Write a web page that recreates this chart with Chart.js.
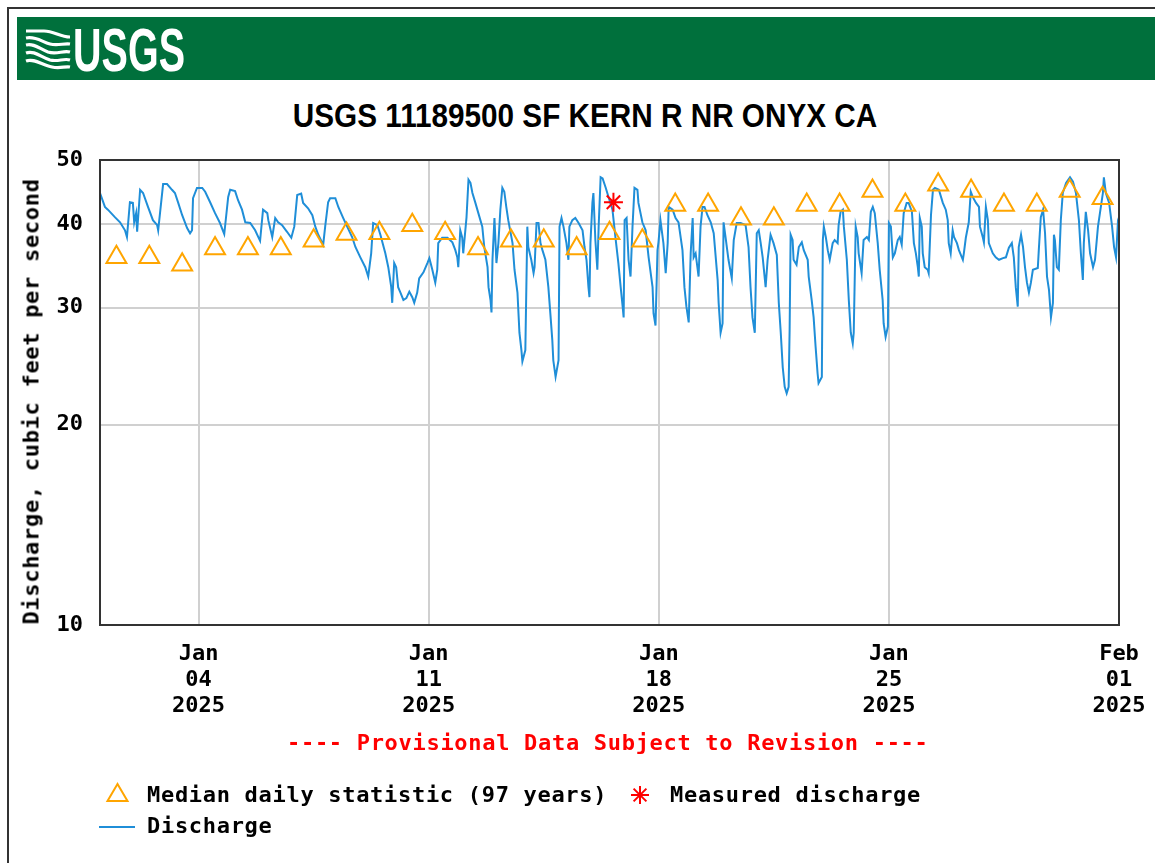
<!DOCTYPE html>
<html>
<head>
<meta charset="utf-8">
<script src="https://cdn.jsdelivr.net/npm/chart.js@4.4.1/dist/chart.umd.min.js"></script>
<style>
  html, body { margin: 0; padding: 0; background: #fff; }
  body { width: 1155px; height: 863px; position: relative; overflow: hidden; }
  #frame { position: absolute; left: 7px; top: 7px; width: 1200px; height: 900px; border-left: 2px solid #333; border-top: 2px solid #333; }
  #band { position: absolute; left: 17px; top: 17px; width: 1138px; height: 63px; background: #00703C; }
  #logo { position: absolute; left: 0; top: 0; }
  #title { position: absolute; left: 185px; width: 800px; top: 99px; text-align: center; font: bold 33px 'Liberation Sans', Arial, sans-serif; line-height: 33px; color: #000; transform: scaleX(0.9); }
  canvas#c { position: absolute; left: 0; top: 0; }
  .mono { position: absolute; font-family: 'DejaVu Sans Mono', monospace; font-weight: bold; font-size: 22px; line-height: 23px; letter-spacing: 0.7px; white-space: pre; color: #000; }
  #ytitle { left: -199px; top: 389.5px; width: 460px; text-align: center; transform: rotate(-90deg); }
  #prov { left: 287px; top: 730.5px; color: #ff0000; }
  #leg { position: absolute; left: 0; top: 0; }
</style>
</head>
<body>
<div id="frame"></div>
<div id="band"></div>
<svg id="logo" width="200" height="90">
  <g fill="none" stroke="#fff" stroke-width="3.2" stroke-linecap="butt">
    <path d="M26,31 L44,31 C54,31 60,37 70,37"/>
    <path d="M26,38 C36,36 42,42 50,44 C58,46 64,43 70,44"/>
    <path d="M26,45 C34,43 40,49 48,52 C57,55 63,50 70,52"/>
    <path d="M26,53 C34,50 41,57 50,60 C58,62 64,58 70,60"/>
    <path d="M26,61 C34,58 42,65 52,67 C60,69 65,66 70,67"/>
  </g>
  <text x="73" y="71" fill="#fff" font-family="'Liberation Sans Narrow','Liberation Sans',Arial,sans-serif" font-weight="bold" font-size="61" textLength="112" lengthAdjust="spacingAndGlyphs">USGS</text>
</svg>
<div id="title">USGS 11189500 SF KERN R NR ONYX CA</div>
<canvas id="c" width="1155" height="863"></canvas>
<div id="ytitle" class="mono">Discharge, cubic feet per second</div>
<div id="prov" class="mono">---- Provisional Data Subject to Revision ----</div>
<svg id="leg" width="1155" height="863">
  <polygon points="117.5,784 107.5,801 127.5,801" fill="none" stroke="#FFA500" stroke-width="2"/>
  <g stroke="#ff0000" stroke-width="2">
    <line x1="640" y1="786" x2="640" y2="804"/>
    <line x1="631" y1="795" x2="649" y2="795"/>
    <line x1="633.6" y1="788.6" x2="646.4" y2="801.4"/>
    <line x1="633.6" y1="801.4" x2="646.4" y2="788.6"/>
  </g>
  <line x1="99" y1="827" x2="135" y2="827" stroke="#1f8ed8" stroke-width="2"/>
</svg>
<div class="mono" style="left:147px; top:783px;">Median daily statistic (97 years)</div>
<div class="mono" style="left:670px; top:783px;">Measured discharge</div>
<div class="mono" style="left:147px; top:814px;">Discharge</div>

<script>
// Time axis: days since 2025-01-01 00:00 (local)
const tickDays = [3, 10, 17, 24, 31];
const tickLabels = [["Jan","04","2025"], ["Jan","11","2025"], ["Jan","18","2025"], ["Jan","25","2025"], ["Feb","01","2025"]];
const yTicks = [10, 20, 30, 40, 50];

// Discharge (cfs)
const dischargeDays = [0.00,0.15,0.24,0.46,0.61,0.76,0.82,0.91,1.00,1.04,1.10,1.13,1.22,1.31,1.46,1.61,1.74,1.77,1.92,2.04,2.19,2.28,2.38,2.50,2.65,2.74,2.80,2.83,2.95,3.11,3.20,3.35,3.50,3.65,3.78,3.90,3.96,4.11,4.20,4.32,4.42,4.57,4.72,4.87,4.96,5.09,5.12,5.24,5.33,5.42,5.54,5.69,5.82,5.91,6.00,6.12,6.18,6.33,6.46,6.55,6.64,6.79,6.85,6.94,7.00,7.16,7.25,7.40,7.52,7.67,7.77,7.92,8.07,8.16,8.25,8.31,8.44,8.53,8.68,8.77,8.86,8.89,8.95,9.01,9.07,9.14,9.23,9.32,9.41,9.50,9.56,9.65,9.71,9.84,9.96,10.02,10.11,10.20,10.26,10.29,10.41,10.57,10.72,10.81,10.87,10.90,10.96,11.02,11.05,11.15,11.21,11.27,11.33,11.42,11.51,11.63,11.69,11.79,11.82,11.88,11.91,11.94,12.00,12.06,12.12,12.18,12.24,12.30,12.36,12.42,12.55,12.61,12.70,12.76,12.82,12.85,12.94,13.00,13.03,13.12,13.19,13.22,13.28,13.34,13.40,13.46,13.55,13.64,13.70,13.76,13.79,13.86,13.95,13.98,14.04,14.10,14.19,14.25,14.28,14.37,14.46,14.56,14.68,14.74,14.80,14.86,14.89,14.92,14.98,15.01,15.07,15.13,15.17,15.23,15.29,15.38,15.47,15.59,15.68,15.77,15.84,15.90,15.93,15.96,16.02,16.08,16.14,16.20,16.26,16.35,16.38,16.50,16.60,16.69,16.81,16.84,16.90,16.96,16.99,17.05,17.14,17.21,17.27,17.30,17.42,17.51,17.60,17.72,17.78,17.84,17.91,17.97,18.03,18.06,18.12,18.21,18.27,18.33,18.39,18.48,18.58,18.67,18.79,18.82,18.88,18.94,18.97,19.03,19.12,19.22,19.28,19.37,19.49,19.64,19.73,19.79,19.85,19.92,19.98,20.04,20.10,20.16,20.25,20.31,20.40,20.49,20.59,20.65,20.71,20.77,20.83,20.89,20.95,20.98,21.01,21.07,21.10,21.19,21.26,21.35,21.41,21.53,21.56,21.65,21.71,21.77,21.83,21.86,21.96,21.99,22.02,22.08,22.14,22.20,22.29,22.35,22.44,22.47,22.53,22.60,22.63,22.72,22.78,22.84,22.90,22.93,22.99,23.05,23.08,23.17,23.23,23.33,23.39,23.45,23.51,23.57,23.66,23.72,23.81,23.84,23.90,23.97,24.00,24.06,24.12,24.18,24.27,24.33,24.39,24.45,24.54,24.60,24.70,24.76,24.82,24.88,24.91,24.94,25.00,25.03,25.09,25.18,25.21,25.28,25.34,25.40,25.52,25.64,25.73,25.79,25.82,25.88,25.94,25.98,26.07,26.13,26.25,26.28,26.34,26.43,26.49,26.55,26.65,26.74,26.77,26.86,26.89,26.95,27.01,27.04,27.16,27.25,27.35,27.47,27.56,27.65,27.74,27.80,27.86,27.92,27.95,28.02,28.08,28.14,28.20,28.26,28.32,28.38,28.53,28.56,28.62,28.69,28.75,28.81,28.87,28.93,28.99,29.02,29.05,29.11,29.17,29.23,29.29,29.39,29.51,29.60,29.69,29.78,29.84,29.90,29.93,29.99,30.06,30.12,30.21,30.27,30.36,30.42,30.51,30.54,30.60,30.70,30.79,30.85,30.91,30.97,31.00];
const dischargeCfs = [44.6,42.5,42.1,41.0,40.3,39.2,38.3,43.2,43.1,40.3,41.6,39.0,45.1,44.6,42.5,40.6,39.9,39.2,46.0,46.0,45.1,44.6,43.1,41.3,39.5,38.8,39.2,43.8,45.4,45.4,44.8,43.2,41.6,40.2,38.7,44.0,45.1,44.9,43.5,42.1,40.3,40.2,39.2,37.8,42.1,41.6,40.6,38.3,40.9,40.3,39.9,39.0,38.2,39.7,44.3,44.5,43.1,42.3,41.3,39.7,38.6,37.3,39.7,43.2,43.8,43.8,42.5,40.9,39.7,38.3,37.0,35.7,34.5,33.4,36.2,40.2,39.9,38.6,36.2,34.5,32.2,30.5,35.0,34.5,32.2,31.6,30.8,31.0,31.7,31.1,30.5,31.6,33.2,33.9,35.0,35.6,34.2,32.7,34.2,37.5,38.2,38.2,37.6,36.6,35.7,34.5,39.2,38.2,36.2,41.0,46.7,46.2,44.6,43.1,41.6,39.7,37.0,34.5,32.2,30.8,29.5,35.4,40.9,35.0,37.5,42.1,45.4,44.8,42.5,40.6,37.5,34.2,31.6,27.5,25.9,24.9,25.9,39.7,37.0,35.4,33.8,34.5,40.2,40.2,37.5,36.6,35.4,32.2,29.4,26.8,25.0,23.6,25.0,39.7,40.9,39.7,37.5,35.4,39.7,40.6,40.9,40.2,39.2,37.0,35.4,32.2,31.1,37.5,43.1,44.6,37.9,34.2,39.7,47.1,46.9,45.5,44.0,42.1,38.3,35.0,32.2,30.1,29.0,40.6,40.9,35.4,33.4,39.7,45.4,45.1,43.1,40.3,39.2,35.7,32.2,29.4,28.2,36.6,37.6,40.6,37.5,33.8,37.5,42.5,42.1,40.9,40.3,36.6,32.2,30.1,28.5,36.2,40.9,35.7,36.2,33.4,39.7,42.5,42.5,41.3,40.3,38.8,33.0,30.5,27.5,28.4,40.3,38.3,35.4,33.2,37.9,40.2,40.2,39.9,37.0,32.2,29.0,27.5,38.8,39.2,37.5,35.7,32.2,35.4,38.6,37.5,36.0,30.5,27.5,24.4,22.8,22.3,22.8,27.8,38.6,37.9,35.4,34.8,37.0,37.6,36.6,35.4,33.4,30.8,29.0,26.2,23.9,23.1,23.6,37.9,39.7,38.3,36.6,35.4,37.5,37.9,37.5,39.9,41.8,42.1,39.7,35.4,30.8,27.5,26.5,27.5,39.7,38.3,36.2,33.8,37.9,38.3,37.9,41.8,42.5,41.6,37.5,34.2,30.8,28.4,27.1,28.1,40.2,39.7,35.7,36.2,37.9,38.3,37.3,41.6,43.1,43.1,41.8,37.5,36.2,34.5,33.4,40.9,39.7,36.2,34.5,34.2,33.8,41.3,45.1,45.4,45.1,43.1,42.1,40.6,37.5,36.2,39.2,38.3,37.5,36.6,35.4,36.2,38.2,40.3,44.8,44.0,43.1,42.5,39.7,38.2,37.6,42.5,40.6,37.5,36.2,35.7,35.4,35.6,35.7,36.9,37.5,35.7,32.2,30.1,37.0,38.6,37.0,34.5,32.7,31.6,32.7,34.2,34.4,36.6,41.0,42.1,38.8,33.4,31.9,29.0,30.5,38.6,37.9,34.5,34.2,40.6,44.6,46.2,47.1,46.4,44.6,40.6,36.2,33.0,37.5,41.8,39.2,36.2,34.5,35.4,39.7,41.6,44.6,47.1,44.6,43.1,39.7,37.0,35.7,40.6,41.0];

// Median daily statistic (97 years), plotted at noon of each day
const medianDays = [0.5,1.5,2.5,3.5,4.5,5.5,6.5,7.5,8.5,9.5,10.5,11.5,12.5,13.5,14.5,15.5,16.5,17.5,18.5,19.5,20.5,21.5,22.5,23.5,24.5,25.5,26.5,27.5,28.5,29.5,30.5];
const medianCfs = [35.7,35.7,34.8,36.8,36.8,36.8,37.8,38.7,38.8,39.9,38.8,36.8,37.8,37.8,36.8,38.8,37.8,42.8,42.8,40.8,40.8,42.8,42.8,44.9,42.8,45.9,44.9,42.8,42.8,44.9,43.8];

// Measured discharge
const measuredDays = [15.62];
const measuredCfs = [43.2];

const n = Math.min(dischargeDays.length, dischargeCfs.length);
const dischargeData = [];
for (let i = 0; i < n; i++) dischargeData.push({x: dischargeDays[i], y: dischargeCfs[i]});
const medianData = medianDays.map((d, i) => ({x: d, y: medianCfs[i]}));
const measuredData = measuredDays.map((d, i) => ({x: d, y: measuredCfs[i]}));

const tickFont = { family: "'DejaVu Sans Mono', monospace", size: 22, weight: 'bold', lineHeight: 26/22 };

const framePlugin = {
  id: 'frame',
  afterDraw(chart) {
    const a = chart.chartArea, ctx = chart.ctx;
    ctx.save();
    ctx.strokeStyle = '#333';
    ctx.lineWidth = 2;
    ctx.strokeRect(a.left, a.top, a.right - a.left, a.bottom - a.top);
    ctx.restore();
  }
};

new Chart(document.getElementById('c'), {
  type: 'line',
  data: {
    datasets: [
      { label: 'Median daily statistic (97 years)', data: medianData, showLine: false,
        pointStyle: 'triangle', pointRadius: 11.5, pointBorderWidth: 2,
        pointBorderColor: '#FFA500', pointBackgroundColor: 'rgba(0,0,0,0)', borderColor: '#FFA500' },
      { label: 'Measured discharge', data: measuredData, showLine: false,
        pointStyle: 'star', pointRadius: 9.5, pointBorderWidth: 2,
        pointBorderColor: '#ff0000', pointBackgroundColor: '#ff0000', borderColor: '#ff0000' },
      { label: 'Discharge', data: dischargeData, borderColor: '#1f8ed8', borderWidth: 2,
        pointRadius: 0, tension: 0, fill: false }
    ]
  },
  options: {
    responsive: false,
    devicePixelRatio: 1,
    animation: false,
    layout: { padding: { top: 160, right: 36, bottom: 0, left: 0 } },
    plugins: { legend: { display: false }, tooltip: { enabled: false } },
    scales: {
      x: {
        type: 'linear', min: 0, max: 31,
        afterBuildTicks: s => { s.ticks = tickDays.map(v => ({ value: v })); },
        afterFit: s => { s.height = 238; s.paddingLeft = 0; s.paddingRight = 0; },
        ticks: { font: tickFont, color: '#000', padding: 16, maxRotation: 0, autoSkip: false,
                 callback: (v, i) => tickLabels[i] },
        grid: { color: '#d0d0d0', lineWidth: 2, drawTicks: false },
        border: { display: false }
      },
      y: {
        type: 'logarithmic', min: 10, max: 50,
        afterBuildTicks: s => { s.ticks = yTicks.map(v => ({ value: v })); },
        afterFit: s => { s.width = 100; s.paddingTop = 0; s.paddingBottom = 0; },
        ticks: { font: tickFont, color: '#000', padding: 17, autoSkip: false,
                 callback: v => String(v) },
        grid: { color: '#d0d0d0', lineWidth: 2, drawTicks: false },
        border: { display: false }
      }
    }
  },
  plugins: [framePlugin]
});
</script>
</body>
</html>
